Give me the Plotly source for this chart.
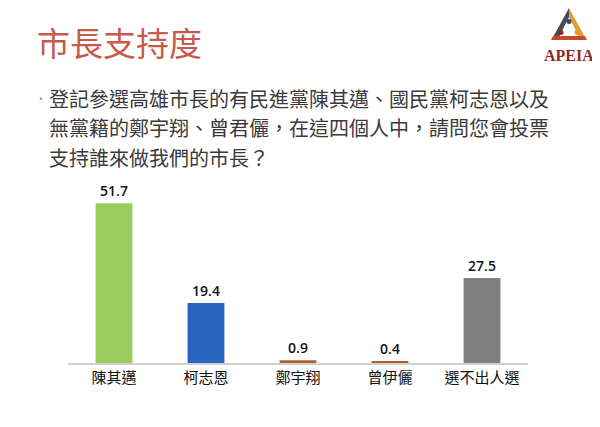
import plotly.graph_objects as go

categories = ["陳其邁", "柯志恩", "鄭宇翔", "曾伊儷", "選不出人選"]
values = [51.7, 19.4, 0.9, 0.4, 27.5]
colors = ["#9BCB5B", "#2B63C1", "#B0602F", "#B0602F", "#808080"]
title_text = "市長支持度"
question_lines = [
    "登記參選高雄市長的有民進黨陳其邁、國民黨柯志恩以及",
    "無黨籍的鄭宇翔、曾君儷，在這四個人中，請問您會投票",
    "支持誰來做我們的市長？",
]

OFF = 8  # browser body margin
W, H = 600 - OFF, 427 - OFF
# plot area in page pixels
L, R, T, B = 68, 528, 193, 363
FONT = "Noto Sans CJK TC, Noto Sans CJK SC, sans-serif"

def px(x):
    return (x - L) / (R - L)

def py(y):
    return (B - y) / (B - T)

fig = go.Figure(go.Bar(
    x=categories, y=values,
    marker=dict(color=colors, line=dict(width=0)),
    text=[f"{v:.1f}" for v in values],
    textposition="outside",
    textfont=dict(size=14, color="#111111", family="Open Sans, sans-serif", weight=600),
    cliponaxis=False,
))

fig.update_layout(
    width=W, height=H,
    margin=dict(l=L - OFF, r=600 - R, t=T - OFF, b=427 - B, pad=0),
    paper_bgcolor="white", plot_bgcolor="white",
    showlegend=False,
    bargap=0.6,
    xaxis=dict(showline=True, linecolor="#D0D0D0", linewidth=1.5, ticks="",
               tickfont=dict(size=15, color="#111111", family=FONT)),
    yaxis=dict(range=[0, 55], visible=False),
)

ann = []
ann.append(dict(text=title_text, x=px(35), y=py(42), xref="paper", yref="paper",
                xanchor="left", yanchor="middle", showarrow=False,
                font=dict(size=33, color="#C65A4B", family=FONT)))
for i, line in enumerate(question_lines):
    ann.append(dict(text=line, x=px(47), y=py(98 + i * 29.5), xref="paper", yref="paper",
                    xanchor="left", yanchor="middle", showarrow=False,
                    font=dict(size=20, color="#3A3A3A", family=FONT)))
ann.append(dict(text="•", x=px(33), y=py(98), xref="paper", yref="paper",
                xanchor="left", yanchor="middle", showarrow=False,
                font=dict(size=12, color="#9A9A9A", family=FONT)))
ann.append(dict(text="<b>APEIA</b>", x=px(569), y=py(55), xref="paper", yref="paper",
                xanchor="center", yanchor="middle", showarrow=False,
                font=dict(size=16, color="#8B2A25", family="Liberation Serif, serif")))
fig.update_layout(annotations=ann)

# logo triangle
def pth(pts):
    return "M " + " L ".join(f"{px(a)} {py(b)}" for a, b in pts) + " Z"

shapes = [
    dict(type="path", path=pth([(569, 8), (552, 39), (558, 39), (569, 17)]),
         fillcolor="#4A4A55", line=dict(width=0)),
    dict(type="path", path=pth([(569, 8), (586, 39), (580, 39), (569, 17)]),
         fillcolor="#E0A030", line=dict(width=0)),
    dict(type="path", path=pth([(553, 36), (585, 36), (587, 40), (551, 40)]),
         fillcolor="#C84A2A", line=dict(width=0)),
    dict(type="circle", x0=px(566.5), x1=px(571.5), y0=py(24), y1=py(19),
         fillcolor="#3A4A70", line=dict(width=0)),
    dict(type="circle", x0=px(558.5), x1=px(563.5), y0=py(35), y1=py(30),
         fillcolor="#A02020", line=dict(width=0)),
    dict(type="circle", x0=px(574.5), x1=px(579.5), y0=py(35), y1=py(30),
         fillcolor="#E8A020", line=dict(width=0)),
]
for s in shapes:
    s["xref"] = "paper"
    s["yref"] = "paper"
fig.update_layout(shapes=shapes)

fig.write_html("out.html")
